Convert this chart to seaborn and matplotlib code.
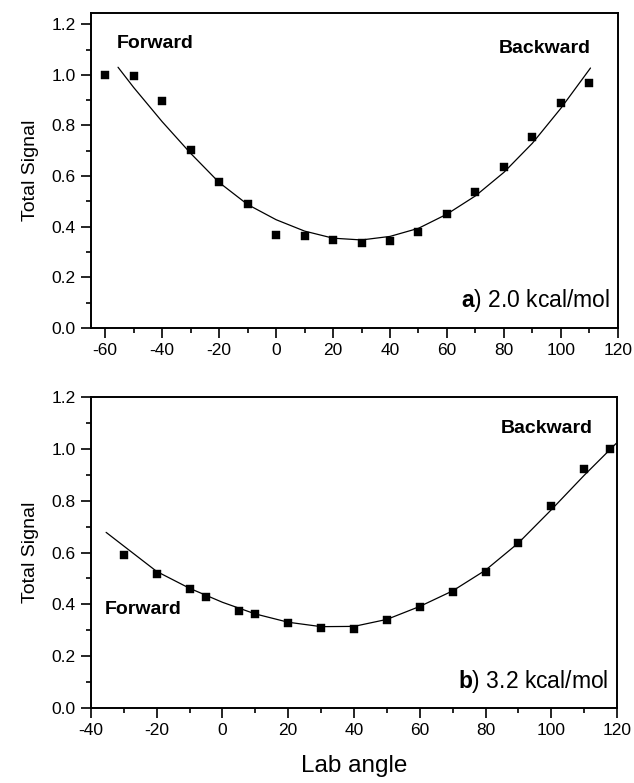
import numpy as np
import pandas as pd
import matplotlib
matplotlib.use("Agg")
import matplotlib.pyplot as plt
import seaborn as sns
from matplotlib.ticker import MultipleLocator, FormatStrFormatter

# panel a) 2.0 kcal/mol
top_angle = [-60, -50, -40, -30, -20, -10, 0, 10, 20, 30, 40, 50, 60, 70, 80, 90, 100, 110]
top_signal = [1.0, 0.994, 0.895, 0.702, 0.576, 0.49, 0.367, 0.363, 0.349, 0.337,
              0.343, 0.38, 0.451, 0.536, 0.636, 0.753, 0.889, 0.969]
top_fit_angle = [-55.5, -50, -40, -30, -20, -10, 0, 10, 20, 30, 40, 50, 60, 70, 80, 90, 100, 110.4]
top_fit_signal = [1.03, 0.95, 0.815, 0.69, 0.575, 0.488, 0.428, 0.383, 0.355, 0.348,
                  0.362, 0.394, 0.45, 0.522, 0.615, 0.73, 0.868, 1.027]

# panel b) 3.2 kcal/mol
bot_angle = [-30, -20, -10, -5, 5, 10, 20, 30, 40, 50, 60, 70, 80, 90, 100, 110, 118]
bot_signal = [0.592, 0.518, 0.46, 0.427, 0.376, 0.364, 0.328, 0.308, 0.303, 0.338,
              0.391, 0.449, 0.526, 0.638, 0.78, 0.924, 1.0]
bot_fit_angle = [-35.4, -30, -20, -10, 0, 10, 20, 30, 40, 50, 60, 70, 80, 90, 100, 110, 119.8]
bot_fit_signal = [0.678, 0.625, 0.527, 0.462, 0.408, 0.363, 0.331, 0.314, 0.315, 0.342,
                  0.392, 0.452, 0.532, 0.637, 0.765, 0.898, 1.022]

sns.set_style("ticks")
plt.rcParams['font.family'] = ['Liberation Sans', 'DejaVu Sans']
plt.rcParams['mathtext.fontset'] = 'custom'
plt.rcParams['mathtext.rm'] = 'Liberation Sans'
plt.rcParams['mathtext.bf'] = 'Liberation Sans:bold'
plt.rcParams['axes.unicode_minus'] = False
plt.rcParams['text.color'] = 'black'
plt.rcParams['axes.labelcolor'] = 'black'
plt.rcParams['xtick.color'] = 'black'
plt.rcParams['ytick.color'] = 'black'

fig = plt.figure(figsize=(6.34, 7.83), dpi=100)
ax1 = fig.add_axes([0.1435, 0.581, 0.831, 0.402])
ax2 = fig.add_axes([0.1435, 0.0958, 0.8297, 0.397])


def draw_panel(ax, ang, sig, fit_ang, fit_sig):
    pts = pd.DataFrame({'angle': ang, 'signal': sig})
    fit = pd.DataFrame({'angle': fit_ang, 'signal': fit_sig})
    sns.lineplot(data=fit, x='angle', y='signal', ax=ax, color='black',
                 linewidth=0.9, sort=True, estimator=None)
    sns.scatterplot(data=pts, x='angle', y='signal', ax=ax, marker='s',
                    color='black', s=32, edgecolor='black', linewidth=0.3, zorder=3)
    ax.yaxis.set_major_locator(MultipleLocator(0.2))
    ax.yaxis.set_minor_locator(MultipleLocator(0.1))
    ax.xaxis.set_major_locator(MultipleLocator(20))
    ax.xaxis.set_minor_locator(MultipleLocator(10))
    ax.yaxis.set_major_formatter(FormatStrFormatter('%.1f'))
    ax.tick_params(which='major', direction='out', length=7, width=1.2,
                   labelsize=12.5, labelcolor='black', color='black', pad=4)
    ax.tick_params(which='minor', direction='out', length=3.5, width=1.2, color='black')
    ax.tick_params(top=False, right=False, which='both')
    for sp in ax.spines.values():
        sp.set_linewidth(1.4)
        sp.set_color('black')
    ax.set_ylabel('Total Signal', fontsize=14, labelpad=9, color='black')
    ax.set_xlabel('')


draw_panel(ax1, top_angle, top_signal, top_fit_angle, top_fit_signal)
ax1.set_xlim(-65, 120)
ax1.set_ylim(0, 1.243)
ax1.text(-55.9, 1.125, 'Forward', fontsize=14, fontweight='bold', ha='left', va='center')
ax1.text(110.4, 1.105, 'Backward', fontsize=14, fontweight='bold', ha='right', va='center')
ax1.text(117.4, 0.107, r'$\mathbf{a}$) 2.0 kcal/mol', fontsize=16.5, ha='right', va='center')

draw_panel(ax2, bot_angle, bot_signal, bot_fit_angle, bot_fit_signal)
ax2.set_xlim(-40, 120)
ax2.set_ylim(0, 1.2)
ax2.text(-35.7, 0.38, 'Forward', fontsize=14, fontweight='bold', ha='left', va='center')
ax2.text(112.7, 1.08, 'Backward', fontsize=14, fontweight='bold', ha='right', va='center')
ax2.text(117.5, 0.104, r'$\mathbf{b}$) 3.2 kcal/mol', fontsize=16.5, ha='right', va='center')
ax2.set_xlabel('Lab angle', fontsize=17.5, labelpad=12, color='black')

fig.savefig('out.png', dpi=100)
